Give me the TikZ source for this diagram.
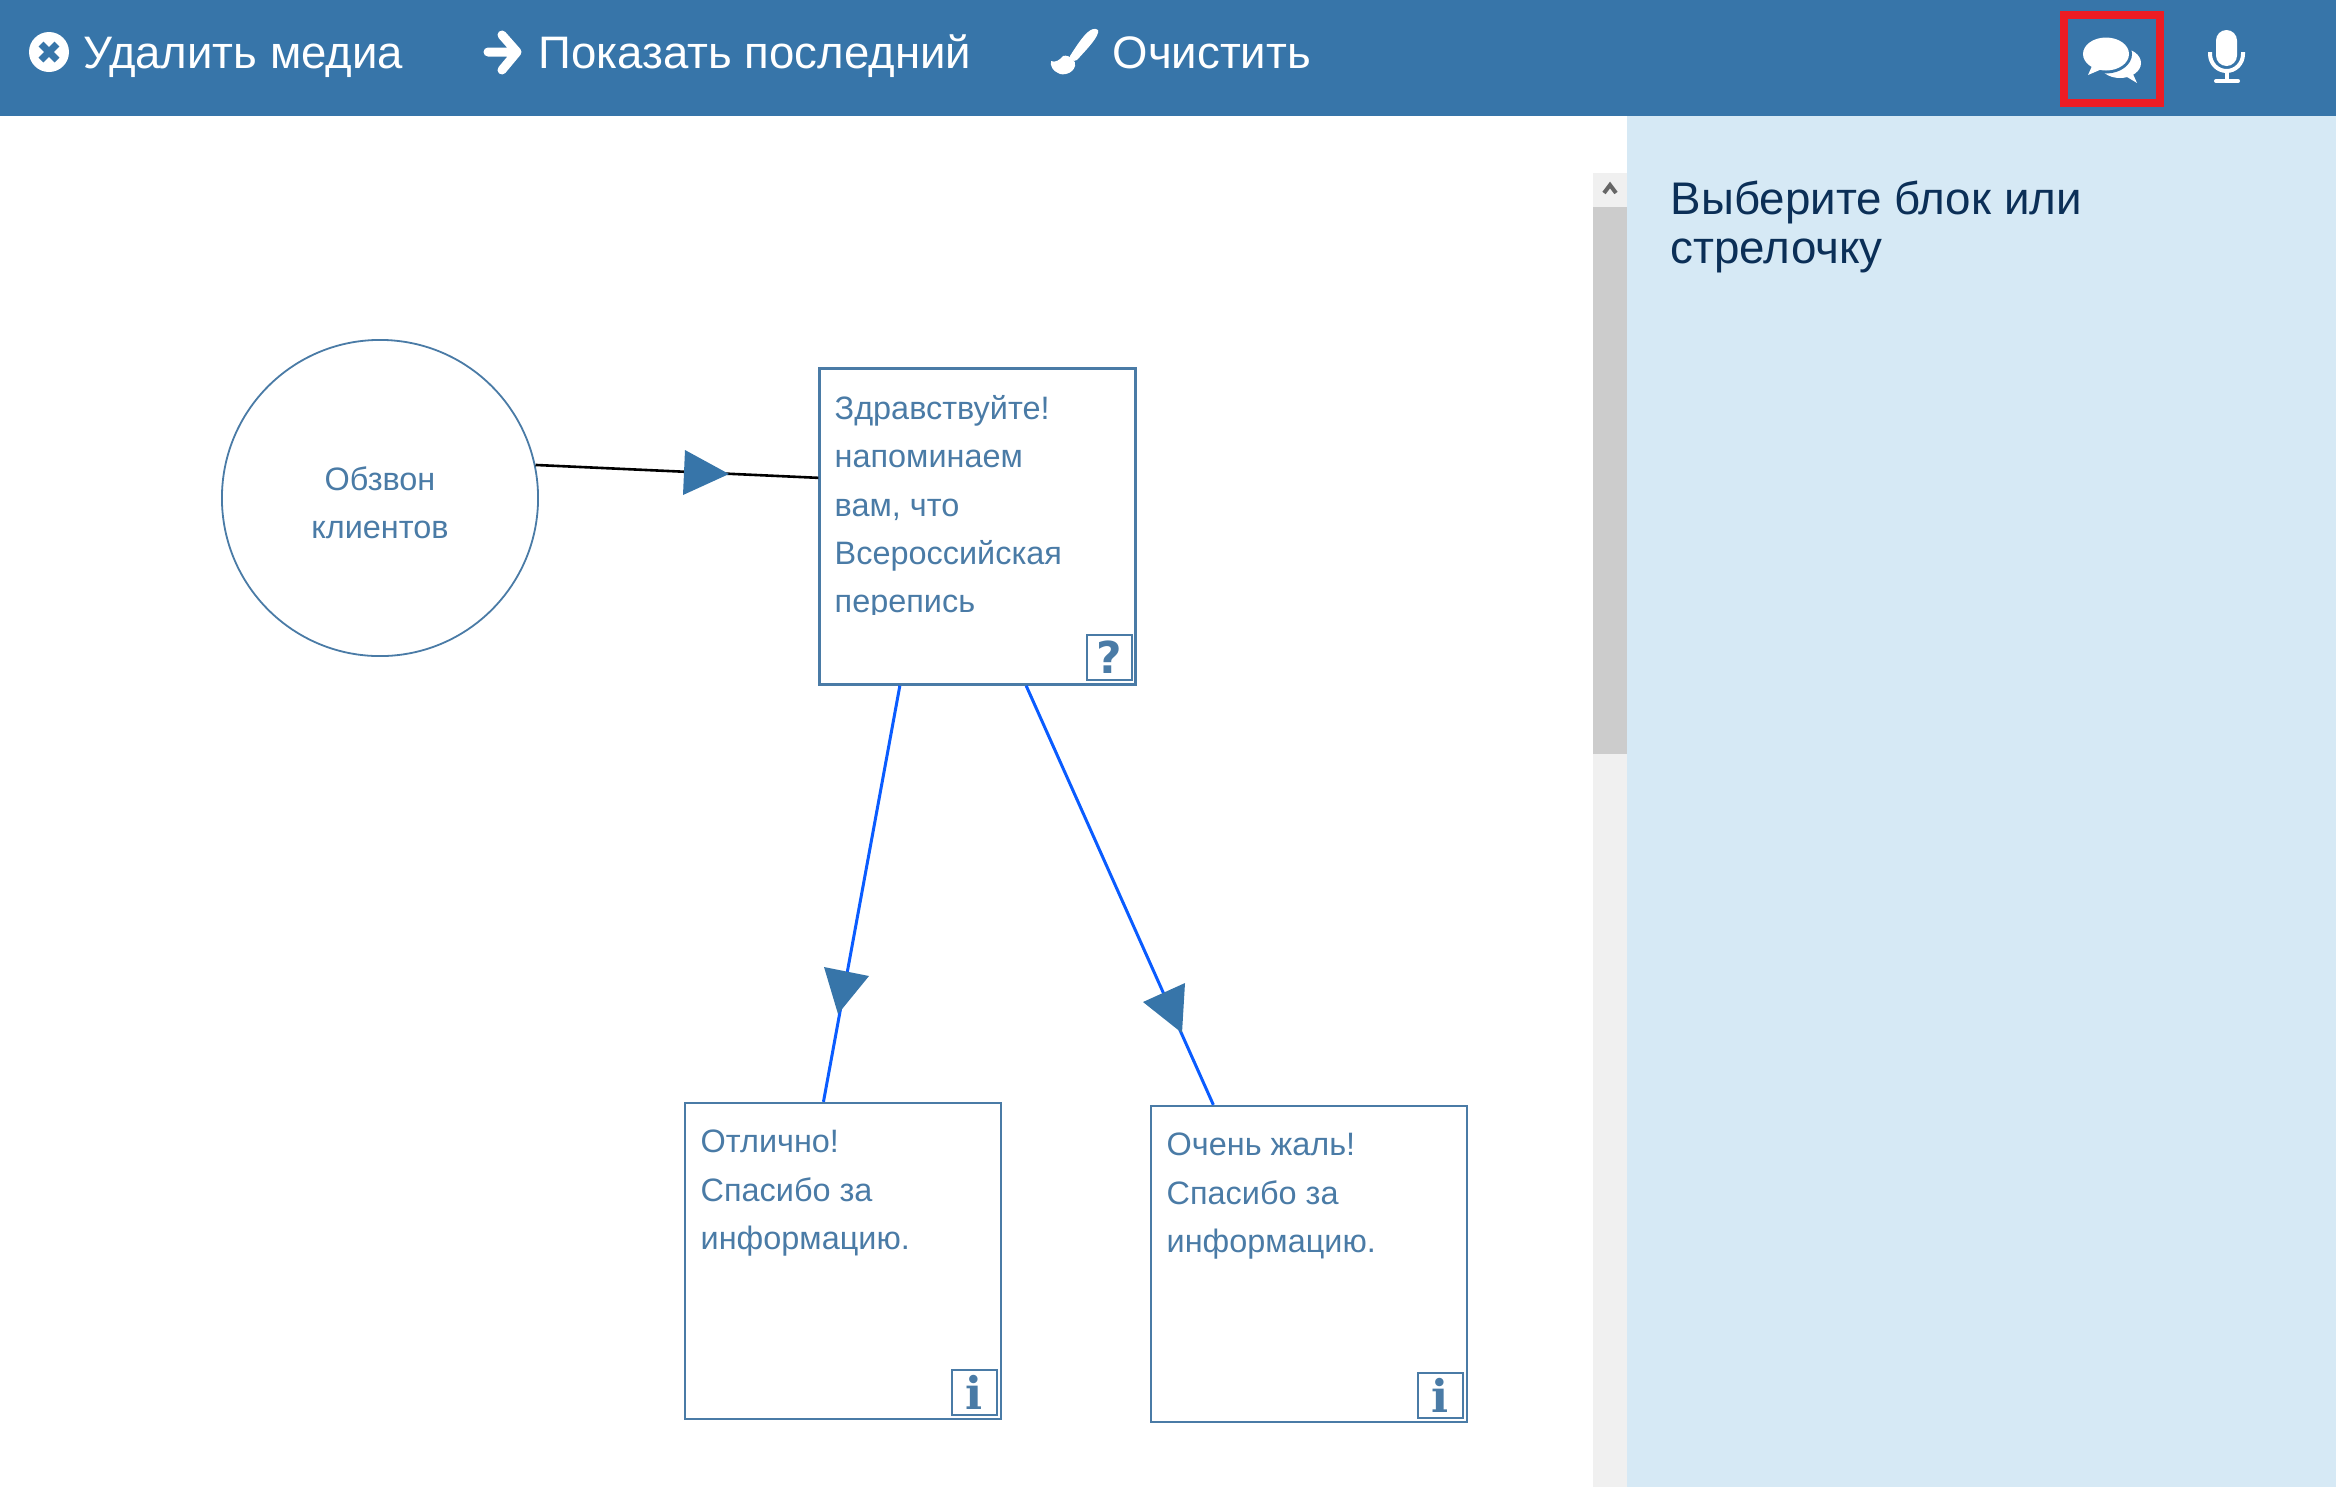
\documentclass[tikz,border=0pt]{standalone}
\usepackage{fontspec}
\setmainfont{Liberation Sans}
\newfontfamily\iconfont{DejaVu Sans}[BoldFont={DejaVu Sans Bold}]
\newfontfamily\slabfont{DejaVu Serif}[BoldFont={DejaVu Serif Bold}]
\definecolor{barblue}{HTML}{3775A9}
\definecolor{panelblue}{HTML}{D6E9F5}
\definecolor{lineblue}{HTML}{0A5CFF}
\definecolor{boxblue}{HTML}{4A7BA6}
\definecolor{navy}{HTML}{0B2F57}
\definecolor{redmark}{HTML}{ED1C24}
\tikzset{
	pxw/.style={line width=#1*0.2845pt},
	bartext/.style={anchor=base west, inner sep=0pt, text=white, font=\fontsize{12.95}{15}\selectfont},
	blockbox/.style={draw=boxblue, pxw=2.2, minimum width=316*0.2845pt, minimum height=316*0.2845pt, inner sep=0pt},
	blocktext/.style={anchor=north west, inner sep=0pt, align=left, text=boxblue, font=\fontsize{9.22}{13.7}\selectfont},
	iconbox/.style={draw=boxblue, pxw=2, minimum width=45*0.2845pt, minimum height=45*0.2845pt, inner sep=0pt, text=boxblue},
	tip/.style={fill=barblue},
	arrowline/.style={draw=lineblue, pxw=3},
}
\begin{document}
\begin{tikzpicture}[x=0.01cm,y=-0.01cm]
	\useasboundingbox (0,0) rectangle (2336,1487);
	% toolbar and side panel
	\fill [barblue] (0,0) rectangle (2336,116);
	\fill [panelblue] (1627,116) rectangle (2336,1487);
	\fill [black!6] (1593,173) rectangle (1627,1487);
	\fill [black!20] (1593,207) rectangle (1627,754);
	\draw [black!60, pxw=4] (1604,193) -- (1610,185) -- (1616,193);
	\node [bartext] (remove) at (83,68) {Удалить медиа};
	\node [bartext] (last) at (538,68) {Показать последний};
	\node [bartext] (clear) at (1112,68) {Очистить};
	\node [anchor=north west, inner sep=0pt, align=left, text=navy, font=\fontsize{13}{13.95}\selectfont] (hint) at (1670,180) {Выберите блок или\\стрелочку};
	% toolbar icons
	\fill [white] (49,52) circle (20);
	\draw [barblue, pxw=7] (41,44) -- (57,60);
	\draw [barblue, pxw=7] (57,44) -- (41,60);
	\draw [white, pxw=9, line cap=round, line join=round] (488,52) -- (515,52) (502,35) -- (517,52) -- (502,70);
	\fill [white] (1098,30) .. controls (1092,26) and (1085,32) .. (1070,56) .. controls (1068,60) and (1074,62) .. (1077,60) .. controls (1086,50) and (1100,36) .. (1098,30) -- cycle;
	\fill [white] (1051,61) .. controls (1055,63) and (1060,60) .. (1063,56) .. controls (1070,54) and (1077,62) .. (1075,66) .. controls (1073,74) and (1062,76) .. (1058,73) .. controls (1053,71) and (1050,66) .. (1051,61) -- cycle;
	\draw [redmark, pxw=8] (2064,15) rectangle (2160,103);
	\fill [white] (2120,63) ellipse (21 and 15);
	\fill [white] (2122,74) -- (2137,83) -- (2132,72) -- cycle;
	\fill [barblue] (2106,54) ellipse (26 and 19.5);
	\fill [white] (2106,54) ellipse (23 and 16.5);
	\fill [white] (2092,66) -- (2088,75) -- (2102,69) -- cycle;
	\fill [white, rounded corners=10.5*0.2845pt] (2216,30) rectangle (2237,66);
	\draw [white, pxw=4] (2210,52) -- (2210,54) arc [start angle=180, end angle=0, x radius=16.5, y radius=17] -- (2243,52);
	\draw [white, pxw=4] (2226.5,71) -- (2226.5,80);
	\draw [white, pxw=4, line cap=round] (2216,81) -- (2238,81);
	% blocks
	\node [circle, draw=boxblue, pxw=1.8, minimum size=316*0.2845pt, inner sep=0pt] (calls) at (380,498) {};
	\node [blocktext, anchor=center, align=center] (callstext) at (380,503) {Обзвон\\клиентов};
	\node [blockbox] (hello) at (977.5,526.5) {};
	\node [blockbox] (good) at (843,1261) {};
	\node [blockbox] (sorry) at (1309,1264) {};
	\begin{scope}
		\clip (819,368) rectangle (1136,614);
		\node [blocktext] (hellotext) at (834,395) {Здравствуйте!\\напоминаем\\вам, что\\Всероссийская\\перепись};
	\end{scope}
	\node [blocktext] (goodtext) at (700,1129.5) {Отлично!\\Спасибо за\\информацию.};
	\node [blocktext] (sorrytext) at (1166,1132.5) {Очень жаль!\\Спасибо за\\информацию.};
	\node [iconbox, font=\iconfont\bfseries\fontsize{12.5}{12.5}\selectfont] (ask) at (1109,657) {?};
	\node [iconbox, font=\slabfont\bfseries\fontsize{12.8}{12.8}\selectfont] (infogood) at (974,1392) {i};
	\node [iconbox, font=\slabfont\bfseries\fontsize{12.8}{12.8}\selectfont] (infosorry) at (1440,1395) {i};
	% connectors
	\draw [pxw=2.6] (calls.12) -- (hello.163);
	\draw [arrowline] (hello.244.3) -- (good.97.6);
	\draw [arrowline] (hello.287) -- (sorry.121.5);
	\fill [tip] (685,450) -- (729,474) -- (683,495) -- cycle;
	\fill [tip] (824,967) -- (869,976) -- (838,1014) -- cycle;
	\fill [tip] (1143,1002) -- (1185,983) -- (1182,1033) -- cycle;
\end{tikzpicture}
\end{document}
